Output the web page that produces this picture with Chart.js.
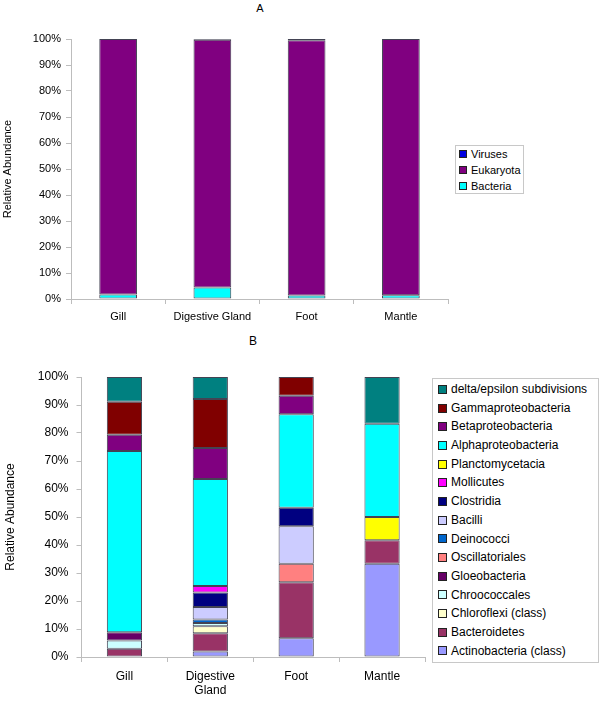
<!DOCTYPE html>
<html>
<head>
<meta charset="utf-8">
<script src="https://cdn.jsdelivr.net/npm/chart.js@4/dist/chart.umd.min.js"></script>
<style>
  body { margin: 0; background: #fff; font-family: 'Liberation Sans', Arial, sans-serif; }
  #page { position: relative; width: 602px; height: 701px; overflow: hidden; }
  canvas { position: absolute; left: 0; }
  .title { position: absolute; transform: translate(-50%, -50%); color: #000; }
  .legend { position: absolute; border: 1px solid #c8c8c8; background: #fff; box-sizing: border-box; }
  .legend .item { position: relative; white-space: nowrap; color: #000; }
  .legend .sw { position: absolute; border: 1px solid #222; box-sizing: border-box; }
</style>
</head>
<body>
<div id="page">
  <div class="title" style="left:260px;top:8px;font-size:11px;">A</div>
  <canvas id="chartA" width="602" height="330" style="top:0"></canvas>
  <div class="legend" id="legendA" style="left:455px;top:145px;width:69px;height:49px;"></div>

  <div class="title" style="left:253px;top:341px;font-size:12px;">B</div>
  <canvas id="chartB" width="602" height="371" style="top:330px"></canvas>
  <div class="legend" id="legendB" style="left:432px;top:378px;width:167px;height:285px;"></div>
</div>
<script>
// ---- data, chart A (domains) ----
var organsA = ['Gill', 'Digestive Gland', 'Foot', 'Mantle'];
var bacteria  = [1.7, 4.4, 1.3, 1.4];
var eukaryota = [98.3, 95.3, 98.2, 98.6];
var viruses   = [0, 0.3, 0.5, 0];

// ---- data, chart B (bacterial classes) ----
var organsB = ['Gill', ['Digestive', 'Gland'], 'Foot', 'Mantle'];
var actinobacteria   = [0, 2.0, 6.67, 33.33];
var bacteroidetes    = [2.94, 6.5, 20.0, 8.33];
var chloroflexi      = [0, 2.5, 0, 0];
var chroococcales    = [2.94, 1.1, 0, 0];
var gloeobacteria    = [2.94, 0, 0, 0];
var oscillatoriales  = [0, 0, 6.67, 0];
var deinococci       = [0, 1.3, 0, 0];
var bacilli          = [0, 4.5, 13.33, 0];
var clostridia       = [0, 5.1, 6.67, 0];
var mollicutes       = [0, 2.4, 0, 0];
var planctomycetacia = [0, 0, 0, 8.33];
var alphaproteo      = [64.71, 38.2, 33.33, 33.33];
var betaproteo       = [5.88, 11.0, 6.67, 0];
var gammaproteo      = [11.76, 17.5, 6.67, 0];
var deltaEpsilon     = [8.82, 7.9, 0, 16.67];

var yTicks = [0, 10, 20, 30, 40, 50, 60, 70, 80, 90, 100];

// series list, bottom of the stack first
var seriesA = [
  { label: 'Bacteria',  data: bacteria,  color: '#00FFFF' },
  { label: 'Eukaryota', data: eukaryota, color: '#800080' },
  { label: 'Viruses',   data: viruses,   color: '#0000E0' }
];

var seriesB = [
  { label: 'Actinobacteria (class)',     data: actinobacteria,   color: '#9999FF' },
  { label: 'Bacteroidetes',              data: bacteroidetes,    color: '#993366' },
  { label: 'Chloroflexi (class)',        data: chloroflexi,      color: '#FFFFCC' },
  { label: 'Chroococcales',              data: chroococcales,    color: '#CCFFFF' },
  { label: 'Gloeobacteria',              data: gloeobacteria,    color: '#660066' },
  { label: 'Oscillatoriales',            data: oscillatoriales,  color: '#FF8080' },
  { label: 'Deinococci',                 data: deinococci,       color: '#0066CC' },
  { label: 'Bacilli',                    data: bacilli,          color: '#CCCCFF' },
  { label: 'Clostridia',                 data: clostridia,       color: '#000080' },
  { label: 'Mollicutes',                 data: mollicutes,       color: '#FF00FF' },
  { label: 'Planctomycetacia',           data: planctomycetacia, color: '#FFFF00' },
  { label: 'Alphaproteobacteria',        data: alphaproteo,      color: '#00FFFF' },
  { label: 'Betaproteobacteria',         data: betaproteo,       color: '#800080' },
  { label: 'Gammaproteobacteria',        data: gammaproteo,      color: '#800000' },
  { label: 'delta/epsilon subdivisions', data: deltaEpsilon,     color: '#008080' }
];

var FONT = "'Liberation Sans', Arial, sans-serif";
var AXIS = '#bdbdbd';

function toDatasets(series, barPct) {
  return series.map(function (s) {
    return {
      label: s.label,
      // zero-height pieces are left out so no stray border line is drawn
      data: s.data.map(function (v) { return v === 0 ? null : v; }),
      backgroundColor: s.color,
      borderColor: 'rgba(20,20,40,0.8)',
      borderWidth: 1,
      borderSkipped: false,
      barPercentage: barPct,
      categoryPercentage: 1
    };
  });
}

function makeChart(id, labels, series, o) {
  return new Chart(document.getElementById(id), {
    type: 'bar',
    data: { labels: labels, datasets: toDatasets(series, o.barPct) },
    options: {
      responsive: false,
      animation: false,
      layout: { padding: { top: o.top, right: o.right, left: 0, bottom: 0 } },
      plugins: { legend: { display: false }, tooltip: { enabled: false } },
      scales: {
        x: {
          stacked: true,
          grid: { display: true, drawOnChartArea: false, offset: true, tickLength: 5, color: AXIS },
          border: { color: AXIS },
          ticks: { color: '#000', font: { family: FONT, size: o.font }, padding: o.xPad, maxRotation: 0, autoSkip: false },
          afterFit: function (s) { s.height = o.xHeight; }
        },
        y: {
          stacked: true,
          min: 0,
          max: 100,
          afterBuildTicks: function (s) { s.ticks = yTicks.map(function (v) { return { value: v }; }); },
          grid: { display: true, drawOnChartArea: false, tickLength: 5, color: AXIS },
          border: { color: AXIS },
          ticks: {
            color: '#000',
            font: { family: FONT, size: o.font },
            padding: o.yPad,
            callback: function (v) { return v + '%'; }
          },
          title: {
            display: true,
            text: 'Relative Abundance',
            color: '#000',
            font: { family: FONT, size: o.font },
            padding: { top: o.titlePad, bottom: 0 }
          },
          afterFit: function (s) { s.width = o.yWidth; }
        }
      }
    }
  });
}

function buildLegend(id, series, o) {
  var box = document.getElementById(id);
  box.style.paddingTop = o.padTop + 'px';
  series.slice().reverse().forEach(function (s) {
    var item = document.createElement('div');
    item.className = 'item';
    item.style.height = o.row + 'px';
    item.style.lineHeight = o.row + 'px';
    item.style.fontSize = o.font + 'px';
    item.style.paddingLeft = o.textX + 'px';
    var sw = document.createElement('span');
    sw.className = 'sw';
    sw.style.left = o.swX + 'px';
    sw.style.top = ((o.row - o.sw) / 2) + 'px';
    sw.style.width = o.sw + 'px';
    sw.style.height = o.sw + 'px';
    sw.style.background = s.color;
    item.appendChild(sw);
    item.appendChild(document.createTextNode(s.label));
    box.appendChild(item);
  });
}

makeChart('chartA', organsA, seriesA, {
  barPct: 0.40, top: 39, right: 154, font: 11, xPad: 6, yPad: 5, titlePad: 1, xHeight: 31, yWidth: 71
});
makeChart('chartB', organsB, seriesB, {
  barPct: 0.41, top: 47, right: 177, font: 12, xPad: 7, yPad: 8, titlePad: 3, xHeight: 44, yWidth: 81.5
});

buildLegend('legendA', seriesA, { padTop: 0, row: 16, font: 11, sw: 8, swX: 3, textX: 15 });
buildLegend('legendB', seriesB, { padTop: 1, row: 18.7, font: 12, sw: 9, swX: 5, textX: 18 });
</script>
</body>
</html>
